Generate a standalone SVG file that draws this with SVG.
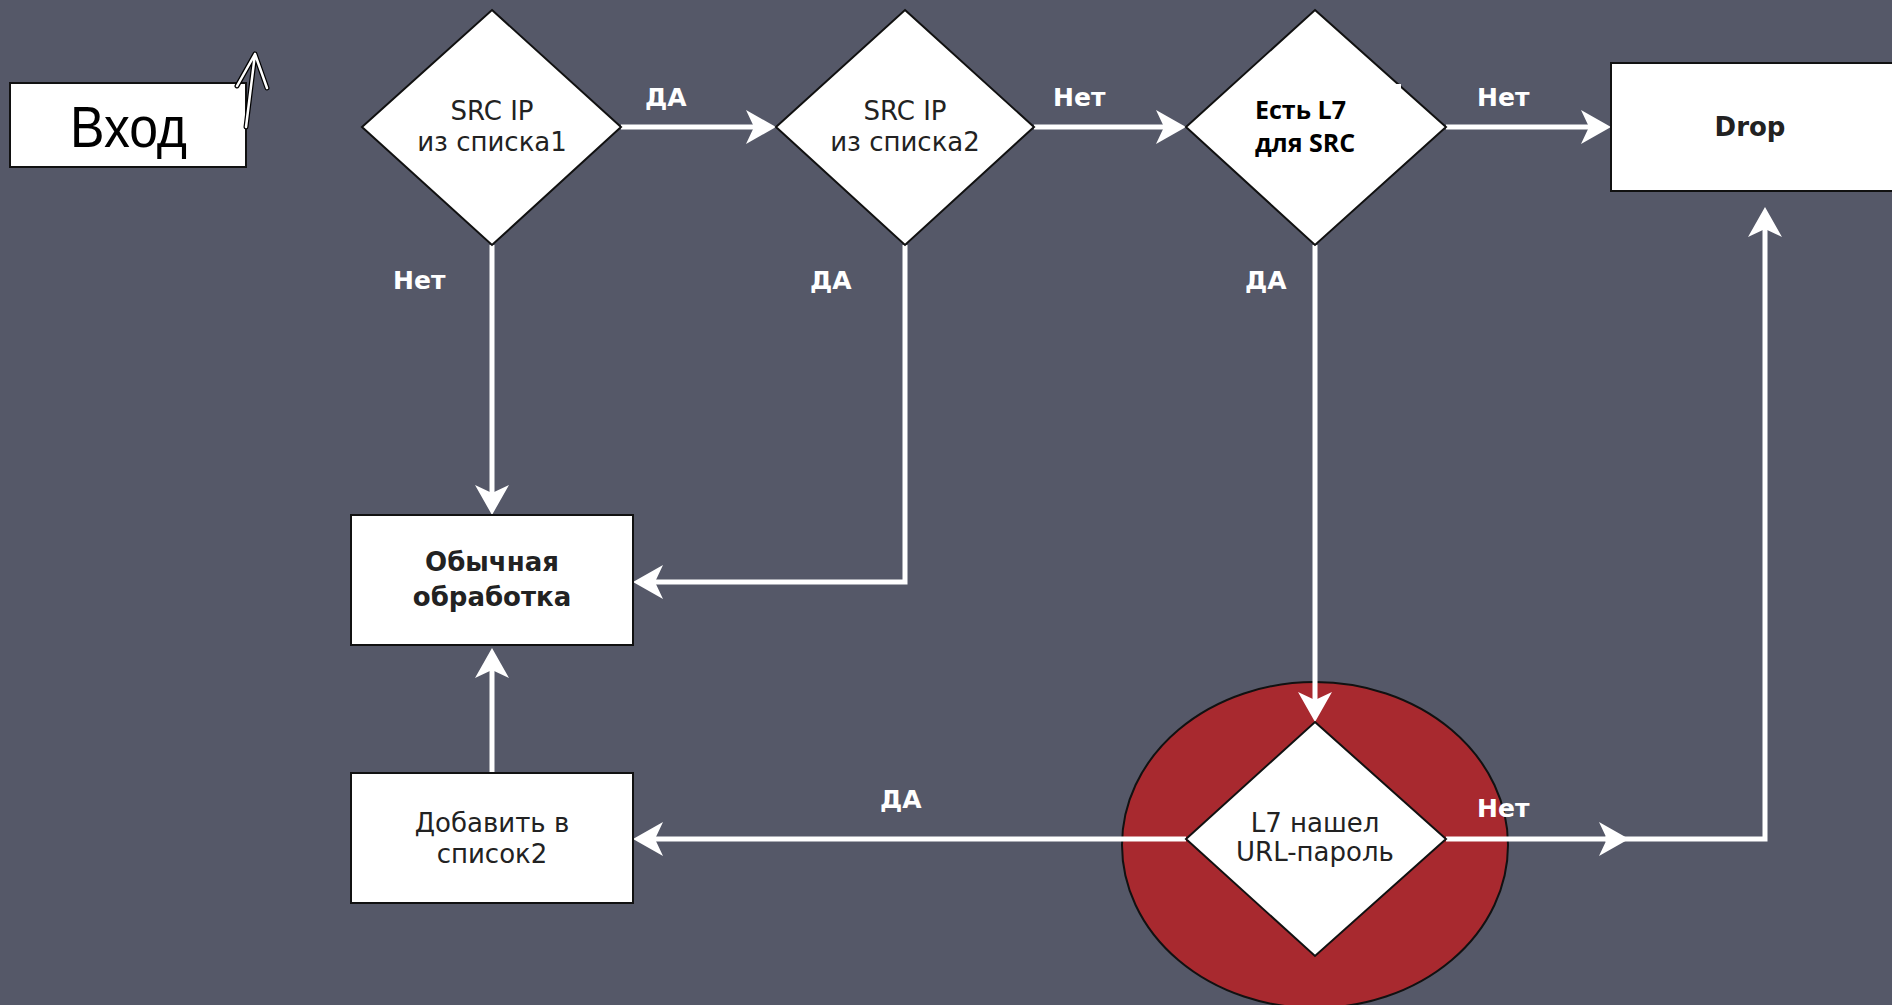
<svg xmlns="http://www.w3.org/2000/svg" width="1892" height="1005" viewBox="0 0 1892 1005">
<style>
.box{fill:#fff;stroke:#111;stroke-width:2}
.dia{fill:#fff;stroke:#111;stroke-width:2}
.conn{fill:none;stroke:#fff;stroke-width:5}
.lbl{font-family:"DejaVu Sans",sans-serif;font-weight:bold;font-size:25px;fill:#fff}
.t{font-family:"DejaVu Sans",sans-serif;font-size:26px;fill:#222;text-anchor:middle}
.tb{font-family:"DejaVu Sans",sans-serif;font-weight:bold;font-size:26px;fill:#222;text-anchor:middle}
.ob{font-family:"Open Sans",sans-serif;font-weight:bold;font-size:25px;fill:#000}
</style>
<defs>
<marker id="ah" markerUnits="userSpaceOnUse" markerWidth="34" markerHeight="38" viewBox="0 -19 34 38" refX="10" refY="0" orient="auto" overflow="visible">
<path d="M0,-17 L30,0 L0,17 L8,0 Z" fill="#fff"/>
</marker>
</defs>
<rect width="1892" height="1005" fill="#555868"/>

<g id="highlight">
<ellipse cx="1315" cy="845" rx="193" ry="163" fill="#a8292f" stroke="#111" stroke-width="2"/>
</g>

<g id="connectors">
<path class="conn" d="M621,127 H756" marker-end="url(#ah)"/>
<path class="conn" d="M1034,127 H1166" marker-end="url(#ah)"/>
<path class="conn" d="M1446,127 H1591" marker-end="url(#ah)"/>
<path class="conn" d="M492,245 V495" marker-end="url(#ah)"/>
<path class="conn" d="M905,245 V582 H653" marker-end="url(#ah)"/>
<path class="conn" d="M1315,245 V702" marker-end="url(#ah)"/>
<path class="conn" d="M1186,839 H653" marker-end="url(#ah)"/>
<path class="conn" d="M1446,839 H1609" marker-end="url(#ah)"/>
<path class="conn" d="M1605,839 H1765 V227" marker-end="url(#ah)"/>
<path class="conn" d="M492,773 V668" marker-end="url(#ah)"/>
</g>

<g id="vhod">
<rect class="box" x="10" y="83" width="236" height="84"/>
<text x="70" y="147" font-family="Liberation Sans, sans-serif" font-size="57" fill="#000" textLength="117" lengthAdjust="spacingAndGlyphs">Вход</text>
<g fill="none" stroke-linecap="round" stroke-linejoin="round">
<path d="M246,127 L255,54 M237,86 L255,54 L267,88" stroke="#000" stroke-width="5"/>
<path d="M246,127 L255,54 M237,86 L255,54 L267,88" stroke="#fff" stroke-width="2.5"/>
</g>
</g>

<g id="d1">
<polygon class="dia" points="492,10 621,127 492,245 362,127"/>
<text class="t" x="492" y="120">SRC IP</text>
<text class="t" x="492" y="151">из списка1</text>
</g>

<g id="d2">
<polygon class="dia" points="905,10 1034,127 905,245 776,127"/>
<text class="t" x="905" y="120">SRC IP</text>
<text class="t" x="905" y="151">из списка2</text>
</g>

<g id="d3">
<polygon class="dia" points="1315,10 1446,127 1315,245 1186,127"/>
<rect x="1236" y="84" width="165" height="66" fill="#fff"/>
<text class="ob" x="1255" y="119">Есть L7</text>
<text class="ob" x="1255" y="152">для SRC</text>
</g>

<g id="drop">
<rect class="box" x="1611" y="63" width="300" height="128"/>
<text class="tb" x="1750" y="136">Drop</text>
</g>

<g id="obychnaya">
<rect class="box" x="351" y="515" width="282" height="130"/>
<text class="tb" x="492" y="571">Обычная</text>
<text class="tb" x="492" y="606">обработка</text>
</g>

<g id="dobavit">
<rect class="box" x="351" y="773" width="282" height="130"/>
<text class="t" x="492" y="832">Добавить в</text>
<text class="t" x="492" y="863">список2</text>
</g>

<g id="d4">
<polygon class="dia" points="1315,722 1446,839 1315,956 1186,839"/>
<text class="t" x="1315" y="832">L7 нашел</text>
<text class="t" x="1315" y="861">URL-пароль</text>
</g>

<g id="labels">
<text class="lbl" x="645" y="106">ДА</text>
<text class="lbl" x="1053" y="106">Нет</text>
<text class="lbl" x="1477" y="106">Нет</text>
<text class="lbl" x="393" y="289">Нет</text>
<text class="lbl" x="810" y="289">ДА</text>
<text class="lbl" x="1245" y="289">ДА</text>
<text class="lbl" x="880" y="808">ДА</text>
<text class="lbl" x="1477" y="817">Нет</text>
</g>
</svg>
